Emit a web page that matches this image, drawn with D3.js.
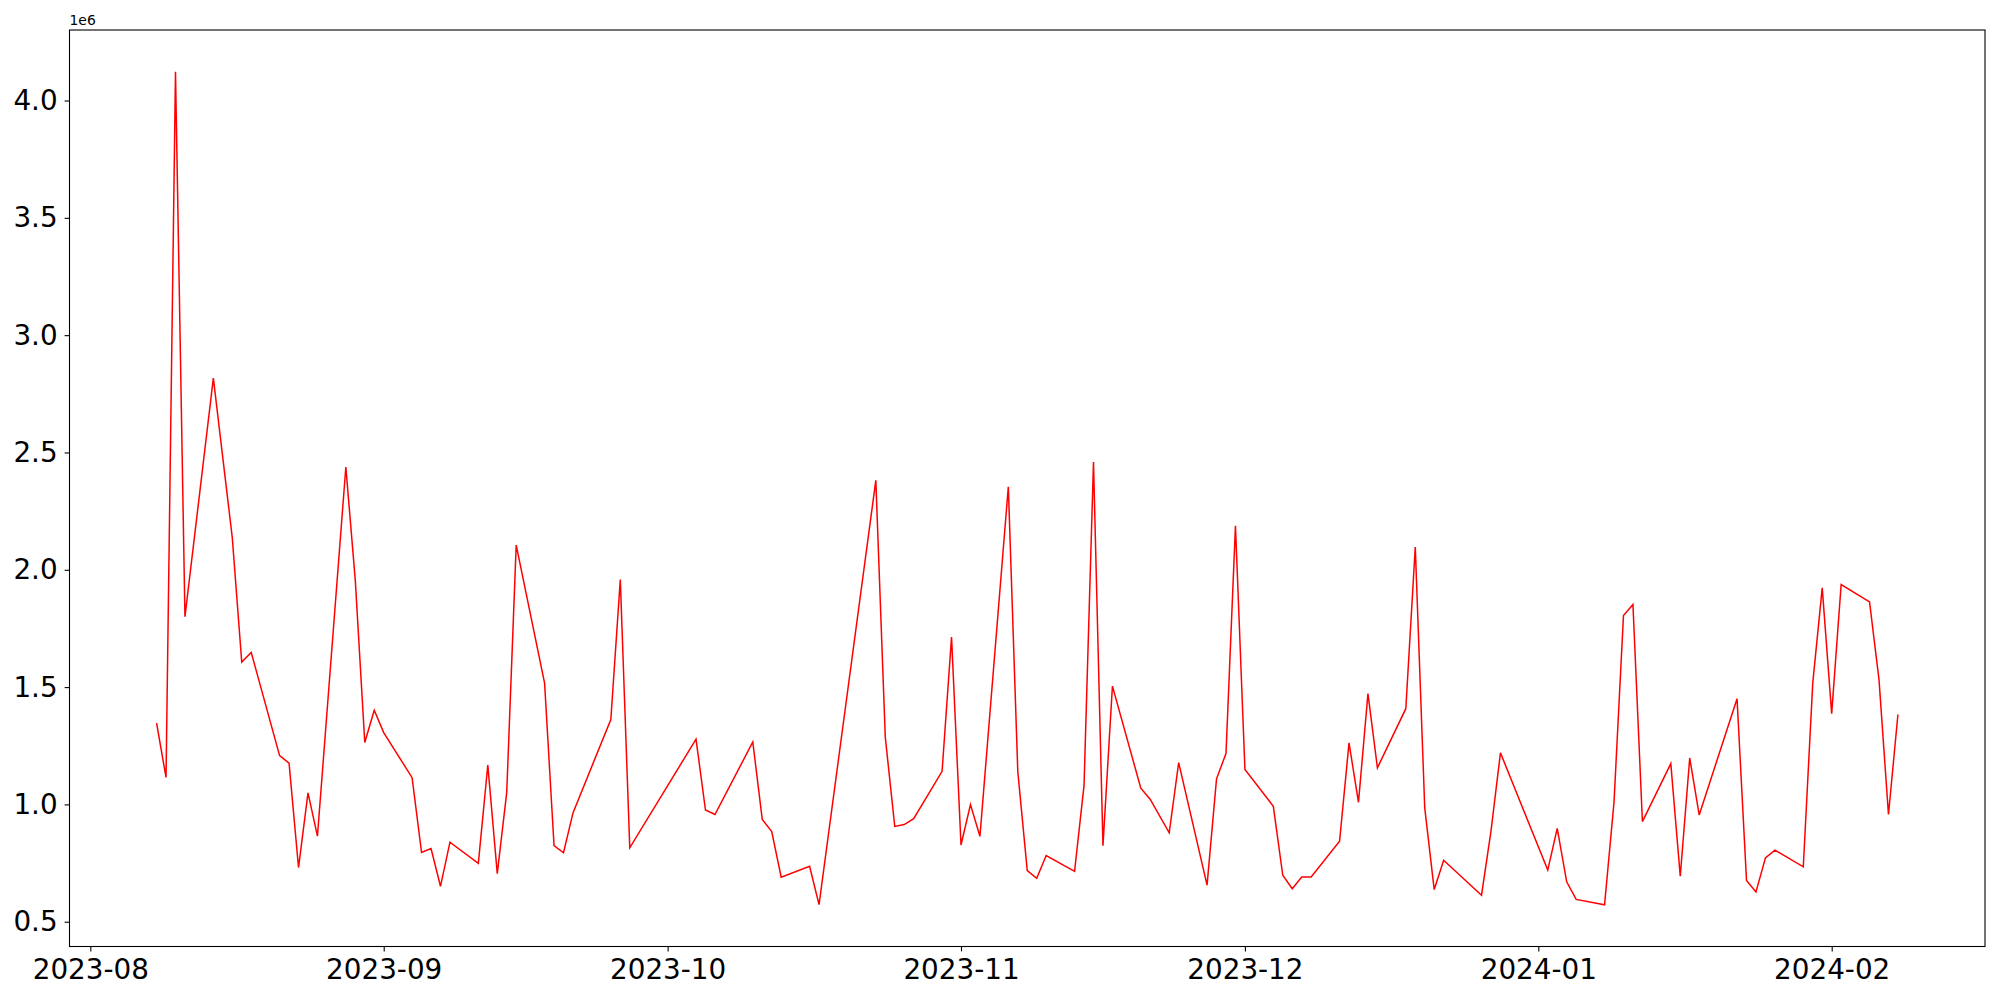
<!DOCTYPE html>
<html><head><meta charset="utf-8">
<script src="https://cdn.jsdelivr.net/npm/d3@7"></script>
<style>
body{margin:0;background:#fff}
svg{display:block}
text{font-family:"DejaVu Sans",sans-serif}
</style>
</head><body>
<svg id="chart" width="2000" height="1000"></svg>
<script>
// ---- data ----
const dates = [
 "2023-08-08","2023-08-09","2023-08-10","2023-08-11","2023-08-14","2023-08-16","2023-08-17","2023-08-18",
 "2023-08-21","2023-08-22","2023-08-23","2023-08-24","2023-08-25","2023-08-28","2023-08-29","2023-08-30","2023-08-31",
 "2023-09-01","2023-09-04","2023-09-05","2023-09-06","2023-09-07","2023-09-08","2023-09-11","2023-09-12","2023-09-13",
 "2023-09-14","2023-09-15","2023-09-18","2023-09-19","2023-09-20","2023-09-21","2023-09-25","2023-09-26","2023-09-27",
 "2023-10-04","2023-10-05","2023-10-06","2023-10-10","2023-10-11","2023-10-12","2023-10-13","2023-10-16","2023-10-17",
 "2023-10-23","2023-10-24","2023-10-25","2023-10-26","2023-10-27","2023-10-30","2023-10-31",
 "2023-11-01","2023-11-02","2023-11-03","2023-11-06","2023-11-07","2023-11-08","2023-11-09","2023-11-10","2023-11-13",
 "2023-11-14","2023-11-15","2023-11-16","2023-11-17","2023-11-20","2023-11-21","2023-11-23","2023-11-24","2023-11-27",
 "2023-11-28","2023-11-29","2023-11-30",
 "2023-12-01","2023-12-04","2023-12-05","2023-12-06","2023-12-07","2023-12-08","2023-12-11","2023-12-12","2023-12-13",
 "2023-12-14","2023-12-15","2023-12-18","2023-12-19","2023-12-20","2023-12-21","2023-12-22","2023-12-26","2023-12-27",
 "2023-12-28",
 "2024-01-02","2024-01-03","2024-01-04","2024-01-05","2024-01-08","2024-01-09","2024-01-10","2024-01-11","2024-01-12",
 "2024-01-15","2024-01-16","2024-01-17","2024-01-18","2024-01-22","2024-01-23","2024-01-24","2024-01-25","2024-01-26",
 "2024-01-29","2024-01-30","2024-01-31",
 "2024-02-01","2024-02-02","2024-02-05","2024-02-06","2024-02-07","2024-02-08"
];
const values = [
 1347000,1115000,4123000,1800000,2817000,2137000,1607000,1648000,
 1208000,1176000,731000,1049000,865000,2438000,1954000,1264000,1401000,
 1306000,1114000,795000,812000,651000,839000,749000,1168000,705000,
 1051000,2105000,1517000,824000,794000,964000,1362000,1958000,815000,
 1278000,976000,957000,1266000,936000,884000,690000,736000,573000,
 2381000,1286000,906000,914000,939000,1141000,1713000,
 827000,999000,864000,2354000,1141000,718000,685000,782000,715000,
 1081000,2459000,824000,1504000,1069000,1021000,879000,1178000,656000,
 1109000,1217000,2188000,
 1149000,992000,698000,641000,691000,691000,843000,1262000,1009000,
 1472000,1156000,1408000,2097000,985000,637000,762000,613000,886000,
 1220000,
 720000,898000,670000,595000,572000,1009000,1805000,1852000,927000,
 1174000,694000,1198000,955000,1450000,676000,627000,772000,805000,
 734000,1518000,1923000,
 1387000,1937000,1863000,1532000,957000,1383000
];
const yTickValues = [500000,1000000,1500000,2000000,2500000,3000000,3500000,4000000];
const xTickDates = ["2023-08-01","2023-09-01","2023-10-01","2023-11-01","2023-12-01","2024-01-01","2024-02-01"];
const yOffsetLabel = "1e6";

// ---- layout ----
const plot = {left: 69.5, top: 30, right: 1985, bottom: 946.5};
const svg = d3.select("#chart");

const parse = d3.utcParse("%Y-%m-%d");
const data = dates.map((d, i) => ({date: parse(d), value: values[i]}));

const xExt = d3.extent(data, d => +d.date);
const xPad = (xExt[1] - xExt[0]) * 0.05;
const x = d3.scaleUtc()
  .domain([new Date(xExt[0] - xPad), new Date(xExt[1] + xPad)])
  .range([plot.left, plot.right]);

const yExt = d3.extent(data, d => d.value);
const yPad = (yExt[1] - yExt[0]) * 0.05;
const y = d3.scaleLinear()
  .domain([yExt[0] - yPad, yExt[1] + yPad])
  .range([plot.bottom, plot.top]);

const fontSize = 27.8;
const tickLen = 4.9;

// x axis
const xAxis = d3.axisBottom(x)
  .tickValues(xTickDates.map(parse))
  .tickFormat(d3.utcFormat("%Y-%m"))
  .tickSize(tickLen).tickPadding(7.5);
const gx = svg.append("g").attr("transform", `translate(0,${plot.bottom})`).call(xAxis);
gx.select(".domain").remove();
gx.selectAll(".tick line").attr("stroke", "#000").attr("stroke-width", 1.1);
gx.selectAll(".tick text").attr("fill", "#000").style("font-size", fontSize + "px")
  .style("font-family", '"DejaVu Sans",sans-serif');

// y axis
const yAxis = d3.axisLeft(y)
  .tickValues(yTickValues)
  .tickFormat(v => (v / 1e6).toFixed(1))
  .tickSize(tickLen).tickPadding(7);
const gy = svg.append("g").attr("transform", `translate(${plot.left},0)`).call(yAxis);
gy.select(".domain").remove();
gy.selectAll(".tick line").attr("stroke", "#000").attr("stroke-width", 1.1);
gy.selectAll(".tick text").attr("fill", "#000").style("font-size", fontSize + "px")
  .style("font-family", '"DejaVu Sans",sans-serif');

// offset text
svg.append("text")
  .attr("x", plot.left).attr("y", plot.top - 5)
  .style("font-size", "13.9px").attr("fill", "#000")
  .text(yOffsetLabel);

// line
const line = d3.line().x(d => x(d.date)).y(d => y(d.value));
svg.append("path").datum(data)
  .attr("fill", "none").attr("stroke", "#ff0000").attr("stroke-width", 1.5)
  .attr("stroke-linejoin", "miter")
  .attr("d", line);

// frame
svg.append("rect")
  .attr("x", plot.left).attr("y", plot.top)
  .attr("width", plot.right - plot.left).attr("height", plot.bottom - plot.top)
  .attr("fill", "none").attr("stroke", "#000").attr("stroke-width", 1.1);
</script>
</body></html>
